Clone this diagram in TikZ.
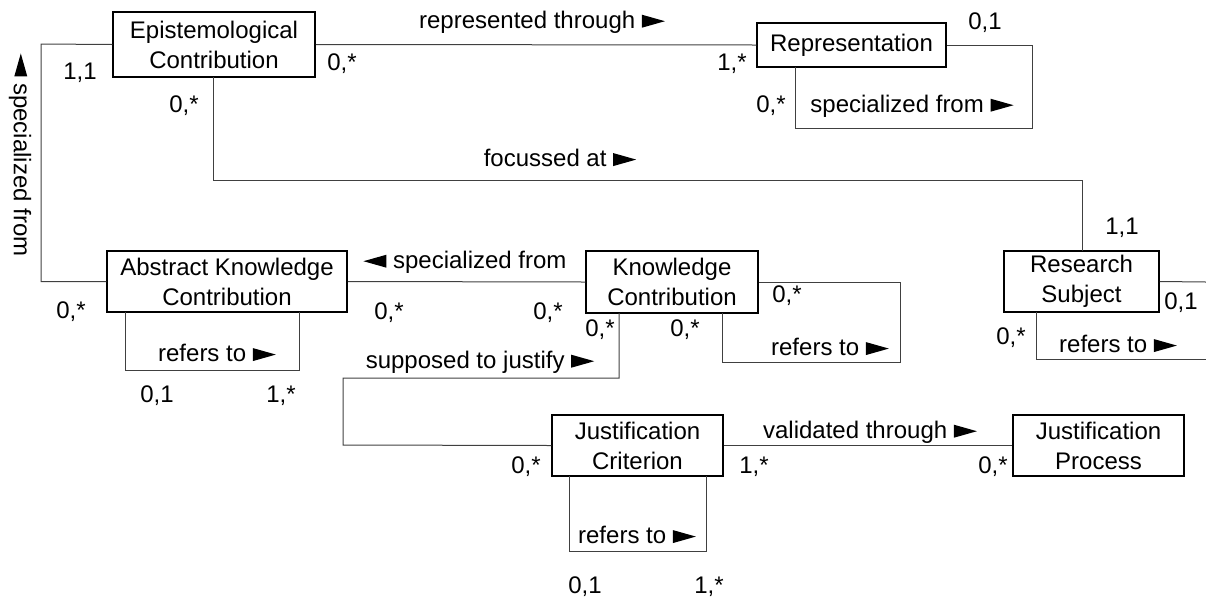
\documentclass[tikz,border=0pt]{standalone}
\usepackage{fontspec}
\setmainfont{Liberation Sans}
\newcommand{\rtri}{\tikz[x=1pt,y=1pt,baseline=0pt]\fill[black] (0,0.5) -- (23,7) -- (0,13.5) -- cycle;}
\newcommand{\ltri}{\tikz[x=1pt,y=1pt,baseline=0pt]\fill[black] (23,0.5) -- (0,7) -- (23,13.5) -- cycle;}
\begin{document}
\begin{tikzpicture}[x=1pt,y=-1pt,
  cls/.style={draw=black,line width=1.5pt,inner sep=0pt,align=center,fill=white},
  conn/.style={draw=black!75,line width=1pt},
  lbl/.style={inner sep=0pt,anchor=center},
  every node/.append style={font=\fontsize{24}{30}\selectfont}]
\useasboundingbox (0,0) rectangle (1206,598);
% classes
\node[cls,minimum width=202pt,minimum height=65pt] (ec) at (214,44.5) {Epistemological\\Contribution};
\node[cls,minimum width=189pt,minimum height=44pt] (rep) at (851.5,45) {Representation};
\node[cls,minimum width=240pt,minimum height=61pt] (akc) at (227,281.5) {Abstract Knowledge\\Contribution};
\node[cls,minimum width=172pt,minimum height=62pt] (kc) at (672,282) {Knowledge\\Contribution};
\node[cls,minimum width=155pt,minimum height=61pt] (rs) at (1081.5,281.5) {Research\\Subject};
\node[cls,minimum width=171pt,minimum height=61pt] (jc) at (637.5,445.5) {Justification\\Criterion};
\node[cls,minimum width=171pt,minimum height=61pt] (jp) at (1098.5,445.5) {Justification\\Process};
% connectors
\draw[conn] (ec.west) -- (41,44) |- (akc.west);
\draw[conn] (ec.east) -- (rep.west);
\draw[conn] (rep.east) -- (1032,45) -- (1032,128) -- (795,128) -- (795,67);
\draw[conn] (213,77) -- (213,180) -- (1082,180) -- (1082,251);
\draw[conn] (akc.east) -- (kc.west);
\draw[conn] (125,312) -- (125,370) -- (299,370) -- (299,312);
\draw[conn] (kc.east) -- (900,282) -- (900,362) -- (722,362) -- (722,313);
\draw[conn] (619,313) -- (619,378) -- (343,378) -- (343,445) -- (jc.west);
\draw[conn] (jc.east) -- (jp.west);
\draw[conn] (569,476) -- (569,551) -- (706,551) -- (706,476);
\draw[conn] (rs.east) -- (1206,282);
\draw[conn] (1206,359) -- (1036,359) -- (1036,312);
% labels
\node[lbl] (l1) at (80,73) {1,1};
\node[lbl] (l2) at (184,106) {0,*};
\node[lbl] (l3) at (342,64) {0,*};
\node[lbl] (l4) at (542,22) {represented through \rtri};
\node[lbl] (l5) at (732,64) {1,*};
\node[lbl] (l6) at (985,23) {0,1};
\node[lbl] (l7) at (771,106) {0,*};
\node[lbl] (l8) at (912,106) {specialized from \rtri};
\node[lbl] (l9) at (560,158) {focussed at \rtri};
\node[lbl] (l10) at (1122,228) {1,1};
\node[lbl,rotate=-90] (l11) at (20,155) {\ltri\ specialized from};
\node[lbl] (l12) at (71,312) {0,*};
\node[lbl] (l13) at (217,353) {refers to \rtri};
\node[lbl] (l14) at (157,396) {0,1};
\node[lbl] (l15) at (281,396) {1,*};
\node[lbl] (l16) at (465,262) {\ltri\ specialized from};
\node[lbl] (l17) at (389,313) {0,*};
\node[lbl] (l18) at (548,313) {0,*};
\node[lbl] (l19) at (787,296) {0,*};
\node[lbl] (l20) at (600,330) {0,*};
\node[lbl] (l21) at (685,330) {0,*};
\node[lbl] (l22) at (830,347) {refers to \rtri};
\node[lbl] (l23) at (480,362) {supposed to justify \rtri};
\node[lbl] (l24) at (1181,303) {0,1};
\node[lbl] (l25) at (1011,338) {0,*};
\node[lbl] (l26) at (1118,344) {refers to \rtri};
\node[lbl] (l27) at (526,467) {0,*};
\node[lbl] (l28) at (754,467) {1,*};
\node[lbl] (l29) at (870,432) {validated through \rtri};
\node[lbl] (l30) at (993,467) {0,*};
\node[lbl] (l31) at (637,535) {refers to \rtri};
\node[lbl] (l32) at (585,587) {0,1};
\node[lbl] (l33) at (709,587) {1,*};
\end{tikzpicture}
\end{document}
